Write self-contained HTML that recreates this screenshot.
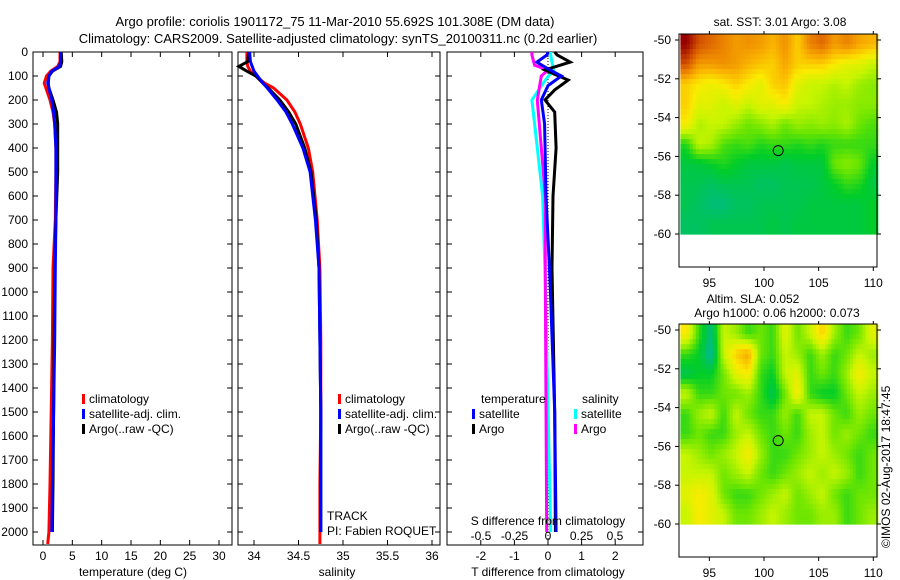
<!DOCTYPE html>
<html><head><meta charset="utf-8"><style>
body{margin:0;background:#fff}
svg{display:block;font-family:"Liberation Sans",sans-serif;font-size:12px}
</style></head><body>
<svg id="c" width="900" height="580" viewBox="0 0 900 580">
<text x="335" y="26" text-anchor="middle" font-size="13">Argo profile: coriolis 1901172_75 11-Mar-2010 55.692S 101.308E (DM data)</text>
<text x="338" y="43" text-anchor="middle" font-size="13">Climatology: CARS2009. Satellite-adjusted climatology: synTS_20100311.nc (0.2d earlier)</text>
<g id="g"></g>
</svg>
<script>
// ---- profile data ----
const depthsP=[0,40,60,80,100,130,150,200,250,300,400,500,700,900,1200,1500,1800,2000,2050];
const tempClim=[2.9,2.9,2.5,1.3,0.6,0.2,0.5,1.2,1.7,2.0,2.2,2.2,2.1,1.7,1.6,1.4,1.2,1.0,0.8];
const tempSat=[3.0,3.0,2.8,1.5,1.0,0.8,1.0,1.5,1.8,2.0,2.2,2.2,2.2,2.1,2.0,1.8,1.6,1.5];
const tempArgo=[3.1,3.2,3.0,1.6,1.0,0.9,1.0,1.7,2.3,2.5,2.5,2.5,2.2,2.0,1.9,1.8,1.7,1.6];
const salClim=[33.92,33.92,33.93,33.96,34.02,34.12,34.22,34.37,34.46,34.52,34.61,34.66,34.71,34.74,34.75,34.75,34.74,34.74,34.74];
const salSat=[33.95,33.96,33.98,34.0,34.04,34.1,34.15,34.26,34.36,34.43,34.55,34.63,34.69,34.73,34.74,34.75,34.75,34.75];
const salArgo=[33.94,33.93,33.83,33.92,34.02,34.1,34.16,34.29,34.39,34.47,34.57,34.64,34.7,34.73,34.74,34.75,34.75,34.75];
const dTArgoDepth=[0,12,42,75,117,158,200,250,400,600,900,1500,2000];
const dTArgo=[0.2,0.27,0.66,-0.09,0.6,0.2,-0.09,0.2,0.24,0.15,0.12,0.2,0.22];
const dTSatDepth=[0,12,42,75,100,140,200,300,600,950,1500,2000];
const dTSat=[0,-0.03,-0.33,0.06,0.4,0.0,-0.2,-0.1,-0.06,0.06,0.2,0.24];
const dSArgoDepth=[0,12,55,75,100,200,400,600,950,2000];
const dSArgo=[-0.12,-0.12,-0.1,0,-0.05,-0.08,-0.05,-0.02,-0.02,-0.01];
const dSSatDepth=[0,12,75,117,200,400,600,950,2000];
const dSSat=[0.02,0.02,0.04,-0.02,-0.12,-0.08,-0.04,-0.02,0.02];
const depthTicks=[0,100,200,300,400,500,600,700,800,900,1000,1100,1200,1300,1400,1500,1600,1700,1800,1900,2000];
const tempTicks=[0,5,10,15,20,25,30];
const salTicks=[34,34.5,35,35.5,36];
const tdTicks=[-2,-1,0,1,2];
const sdTicks=[-0.5,-0.25,0,0.25,0.5];
const sdTickLabels=["-0.5","-0.25","0","0.25","0.5"];
// ---- map data (rows lat -50..-60, cols lon 92.3..110) ----
const sstGrid=[
[1.0,0.85,0.8,0.75,0.7,0.72,0.7,0.65,0.72,0.6,0.75,0.8,0.7,0.75,0.68,0.65],
[0.85,0.7,0.7,0.72,0.7,0.65,0.62,0.6,0.68,0.6,0.6,0.6,0.55,0.5,0.5,0.45],
[0.6,0.55,0.52,0.55,0.6,0.55,0.5,0.6,0.62,0.5,0.45,0.45,0.42,0.45,0.4,0.38],
[0.6,0.5,0.5,0.45,0.5,0.45,0.5,0.5,0.55,0.45,0.45,0.42,0.4,0.4,0.38,0.38],
[0.55,0.42,0.45,0.45,0.4,0.35,0.38,0.42,0.35,0.4,0.38,0.4,0.38,0.42,0.35,0.32],
[0.28,0.45,0.42,0.32,0.3,0.32,0.28,0.3,0.3,0.28,0.3,0.28,0.3,0.3,0.3,0.3],
[0.22,0.22,0.25,0.28,0.25,0.22,0.22,0.22,0.2,0.22,0.22,0.22,0.35,0.38,0.35,0.25],
[0.2,0.2,0.18,0.2,0.2,0.2,0.18,0.18,0.2,0.2,0.2,0.22,0.25,0.3,0.28,0.22],
[0.2,0.18,0.15,0.15,0.18,0.18,0.2,0.2,0.2,0.2,0.22,0.22,0.22,0.22,0.22,0.25],
[0.18,0.18,0.2,0.2,0.2,0.2,0.2,0.22,0.2,0.22,0.22,0.22,0.22,0.22,0.22,0.25]];
const slaGrid=[
[0.55,0.3,0.15,0.45,0.4,0.3,0.35,0.3,0.5,0.35,0.45,0.6,0.4,0.3,0.35,0.5],
[0.3,0.25,0.1,0.45,0.6,0.68,0.35,0.3,0.45,0.4,0.3,0.4,0.3,0.35,0.45,0.4],
[0.2,0.25,0.25,0.35,0.5,0.55,0.3,0.25,0.45,0.5,0.3,0.35,0.3,0.4,0.55,0.45],
[0.45,0.3,0.3,0.35,0.35,0.4,0.3,0.2,0.35,0.55,0.3,0.25,0.25,0.35,0.45,0.4],
[0.3,0.4,0.45,0.3,0.45,0.35,0.3,0.3,0.4,0.3,0.45,0.45,0.35,0.3,0.4,0.35],
[0.3,0.35,0.3,0.3,0.4,0.45,0.35,0.3,0.35,0.3,0.4,0.45,0.35,0.4,0.35,0.3],
[0.45,0.4,0.35,0.4,0.45,0.55,0.4,0.3,0.3,0.35,0.4,0.45,0.4,0.35,0.3,0.35],
[0.45,0.45,0.45,0.35,0.4,0.45,0.35,0.3,0.35,0.4,0.45,0.4,0.45,0.4,0.3,0.35],
[0.5,0.55,0.5,0.35,0.3,0.3,0.35,0.4,0.45,0.35,0.4,0.45,0.35,0.3,0.35,0.35],
[0.45,0.55,0.5,0.45,0.35,0.35,0.4,0.45,0.4,0.35,0.35,0.4,0.4,0.3,0.35,0.4]];
const lonTicks=[95,100,105,110];
const latTicks=[-50,-52,-54,-56,-58,-60];
const argoLon=101.3, argoLat=-55.7;

const NS='http://www.w3.org/2000/svg';
const G=document.getElementById('g');
function el(t,a,txt){const e=document.createElementNS(NS,t);for(const k in a)e.setAttribute(k,a[k]);if(txt!==undefined)e.textContent=txt;G.appendChild(e);return e;}
const yD=d=>52+d*0.24;
const PB=545;
function panel(x0,x1,name){
  const r=el('rect',{x:x0,y:52,width:x1-x0,height:PB-52,fill:'none',stroke:'#000','stroke-width':1});
  
  
}
function line(xs,ds,f,col,name,w){
  const pts=xs.map((v,i)=>f(v).toFixed(1)+','+yD(ds[i]).toFixed(1)).join(' ');
  const p=el('polyline',{points:pts,fill:'none',stroke:col,'stroke-width':w||3});
  
  
}
function xticks(x0,x1,f,ticks,labels,ly){
  ticks.forEach((t,i)=>{const x=f(t);
    el('line',{x1:x,y1:PB,x2:x,y2:PB-5,stroke:'#000'});
    el('line',{x1:x,y1:52,x2:x,y2:57,stroke:'#000'});
    if(ly){const tx=el('text',{x:x,y:ly,'text-anchor':'middle'},labels[i]);
      
      }
  });
}
function yticks(x0,x1){depthTicks.forEach(d=>{el('line',{x1:x0,y1:yD(d),x2:x0+5,y2:yD(d),stroke:'#000'});el('line',{x1:x1,y1:yD(d),x2:x1-5,y2:yD(d),stroke:'#000'});});}
function legend(x,y,col,label,name){
  el('rect',{x:x,y:y-9,width:3,height:10,fill:col});
  const t=el('text',{x:x+7,y:y},label);
  
  
}
// panel 1 temperature
const fT=v=>43+v*(219-43)/30;
panel(33,232,'temperature-panel');
yticks(33,232);
depthTicks.forEach(d=>{const t=el('text',{x:28,y:yD(d)+4,'text-anchor':'end'},String(d));
  
  });
xticks(33,232,fT,tempTicks,tempTicks.map(String),560);
line(tempClim,depthsP,fT,'#f00','temp-climatology-line');
line(tempArgo,depthsP,fT,'#000','temp-argo-line');
line(tempSat,depthsP,fT,'#00f','temp-satellite-line');
legend(82,403,'#f00','climatology','legend-climatology');
legend(82,418,'#00f','satellite-adj. clim.','legend-satellite');
legend(82,433,'#000','Argo(..raw -QC)','legend-argo');
let t=el('text',{x:133,y:576,'text-anchor':'middle'},'temperature (deg C)');

// panel 2 salinity
const fS=v=>254+(v-34)*(432-254)/2;
panel(238,440,'salinity-panel');
yticks(238,440);
xticks(238,440,fS,salTicks,salTicks.map(String),560);
line(salClim,depthsP,fS,'#f00','sal-climatology-line');
line(salArgo,depthsP,fS,'#000','sal-argo-line');
line(salSat,depthsP,fS,'#00f','sal-satellite-line');
legend(338,403,'#f00','climatology','legend-climatology-2');
legend(338,418,'#00f','satellite-adj. clim.','legend-satellite-2');
legend(338,433,'#000','Argo(..raw -QC)','legend-argo-2');
t=el('text',{x:327,y:520},'TRACK');
t=el('text',{x:327,y:535},'PI: Fabien ROQUET');
t=el('text',{x:337,y:576,'text-anchor':'middle'},'salinity');
// panel 3 differences
const fTd=v=>548+v*33.6;
const fSd=v=>548+v*134;
panel(447,643,'difference-panel');
yticks(447,643);
xticks(447,643,fTd,tdTicks,tdTicks.map(String),560);
sdTicks.forEach((s,i)=>{const tx=el('text',{x:fSd(s),y:540,'text-anchor':'middle'},sdTickLabels[i]);
  });
el('line',{x1:fTd(0),y1:52,x2:fTd(0),y2:PB,stroke:'#000','stroke-dasharray':'1,2'});
line(dSSat,dSSatDepth,fSd,'#0ff','sdiff-satellite-line');
line(dSArgo,dSArgoDepth,fSd,'#f0f','sdiff-argo-line');
line(dTArgo,dTArgoDepth,fTd,'#000','tdiff-argo-line');
line(dTSat,dTSatDepth,fTd,'#00f','tdiff-satellite-line');
t=el('text',{x:481,y:403},'temperature');
t=el('text',{x:582,y:403},'salinity');
legend(472,418,'#00f','satellite','legend-t-satellite');
legend(472,433,'#000','Argo','legend-t-argo');
legend(574,418,'#0ff','satellite','legend-s-satellite');
legend(574,433,'#f0f','Argo','legend-s-argo');
t=el('text',{x:548,y:525,'text-anchor':'middle'},'S difference from climatology');
t=el('text',{x:548,y:576,'text-anchor':'middle'},'T difference from climatology');
// colormap
const stops=[[0,[0,180,170]],[0.15,[0,190,120]],[0.25,[0,205,40]],[0.35,[110,230,0]],[0.45,[200,245,0]],[0.55,[250,235,0]],[0.65,[250,180,0]],[0.75,[235,130,0]],[0.85,[210,80,0]],[1,[150,0,0]]];
function cmap(v){for(let i=1;i<stops.length;i++){if(v<=stops[i][0]){const a=stops[i-1],b=stops[i],f=(v-a[0])/(b[0]-a[0]);return 'rgb('+a[1].map((c,j)=>Math.round(c+(b[1][j]-c)*f)).join(',')+')';}}return 'rgb(150,0,0)';}
function sample(grid,r,c){
  const R=grid.length-1,C=grid[0].length-1;
  r=Math.max(0,Math.min(R,r));c=Math.max(0,Math.min(C,c));
  const r0=Math.floor(r),c0=Math.floor(c),r1=Math.min(R,r0+1),c1=Math.min(C,c0+1),fr=r-r0,fc=c-c0;
  return (grid[r0][c0]*(1-fc)+grid[r0][c1]*fc)*(1-fr)+(grid[r1][c0]*(1-fc)+grid[r1][c1]*fc)*fr;
}
function map(grid,top,name){
  const x0=679,x1=877,lat50=top+6,pxDeg=19.4,bottom=top+233;
  const fx=lon=>764+(lon-100)*10.93;
  const fy=lat=>lat50+(-50-lat)*pxDeg;
  const rows=grid.length,cols=grid[0].length,S=4;
  const lonL=92.35,lonR=110.4,latT=-49.7,latB=-60;
  const cw=(lonR-lonL)/cols/S,ch=(latT-latB)/rows/S;
  for(let r=0;r<rows*S;r++)for(let c=0;c<cols*S;c++){
    const v=sample(grid,(r+0.5)/S-0.5,(c+0.5)/S-0.5);
    const x=fx(lonL+c*cw),y=fy(latT-r*ch);
    const rc=el('rect',{x:x.toFixed(1),y:y.toFixed(1),width:(cw*10.93+0.6).toFixed(1),height:(ch*pxDeg+0.6).toFixed(1),fill:cmap(v)});
    
    
  }
  const b=el('rect',{x:x0,y:top,width:x1-x0,height:bottom-top,fill:'none',stroke:'#000'});
  
  latTicks.forEach(l=>{const y=fy(l);el('line',{x1:x0-4,y1:y,x2:x0,y2:y,stroke:'#000'});el('line',{x1:x1,y1:y,x2:x1+4,y2:y,stroke:'#000'});
    const tx=el('text',{x:x0-8,y:y+4,'text-anchor':'end'},String(l));});
  lonTicks.forEach(l=>{const x=fx(l);el('line',{x1:x,y1:bottom,x2:x,y2:bottom+4,stroke:'#000'});el('line',{x1:x,y1:top,x2:x,y2:top-3,stroke:'#000'});
    const tx=el('text',{x:x,y:bottom+20,'text-anchor':'middle'},String(l));});
  const m=el('circle',{cx:fx(argoLon),cy:fy(argoLat),r:5,fill:'none',stroke:'#000'});
  
}
map(sstGrid,34,'sst-map');
map(slaGrid,324,'sla-map');
t=el('text',{x:780,y:26,'text-anchor':'middle'},'sat. SST: 3.01  Argo: 3.08');
t=el('text',{x:753,y:303,'text-anchor':'middle'},'Altim. SLA: 0.052');
t=el('text',{x:777,y:317,'text-anchor':'middle'},'Argo h1000: 0.06 h2000: 0.073');
t=el('text',{x:0,y:0,transform:'translate(890,548) rotate(-90)'},'©IMOS 02-Aug-2017 18:47:45');
</script>
</body></html>
